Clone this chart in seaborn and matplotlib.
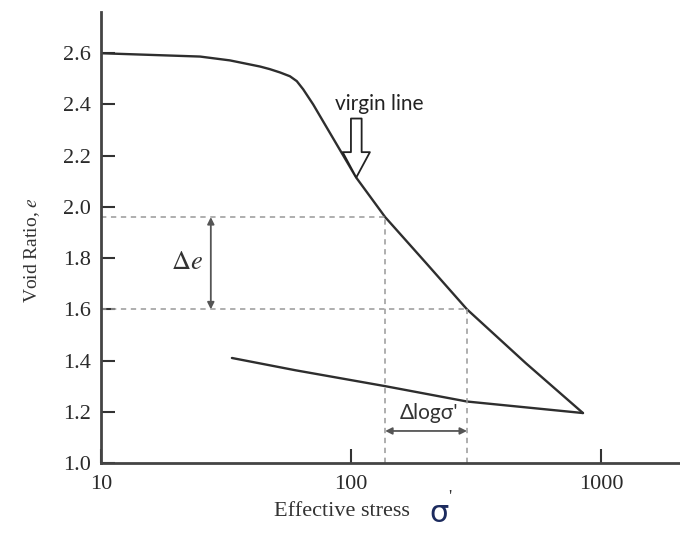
import numpy as np
import pandas as pd
import matplotlib.pyplot as plt
import seaborn as sns

# virgin compression curve
virgin_stress = [10, 24.9, 32.8, 43.3, 47.3, 52.0, 57.0, 60.7, 64.4, 70.6, 76.5,
                 105, 137, 200, 291, 500, 847]
virgin_e = [2.600, 2.587, 2.572, 2.548, 2.538, 2.525, 2.510, 2.491, 2.459, 2.400, 2.342,
            2.114, 1.96, 1.78, 1.60, 1.39, 1.195]

# unloading / rebound curve
rebound_stress = [33.4, 60, 137, 291, 847]
rebound_e = [1.41, 1.362, 1.30, 1.24, 1.195]

# construction lines
e_upper, e_lower = 1.96, 1.60
s_left, s_right = 137, 291
y_ticks = [1.0, 1.2, 1.4, 1.6, 1.8, 2.0, 2.2, 2.4, 2.6]
x_ticks = [10, 100, 1000]

virgin = pd.DataFrame({"stress": virgin_stress, "e": virgin_e})
rebound = pd.DataFrame({"stress": rebound_stress, "e": rebound_e})

sns.set_style("ticks")
plt.rcParams["font.family"] = ["Liberation Serif", "DejaVu Serif"]
plt.rcParams["mathtext.fontset"] = "stix"

fig = plt.figure(figsize=(6.8, 5.47), dpi=100)
ax = fig.add_axes([0.1485, 0.1536, 0.8515, 0.824])

line_col = "#2e2e2e"
sns.lineplot(data=virgin, x="stress", y="e", ax=ax, color=line_col, lw=1.7, sort=False)
sns.lineplot(data=rebound, x="stress", y="e", ax=ax, color=line_col, lw=1.7, sort=False)

ax.set_xscale("log")
ax.set_xlim(10, 2070)
ax.set_ylim(1.0, 2.76)

# dashed construction lines
dash = dict(color="#999999", ls=(0, (3.5, 3)), lw=1.1)
ax.plot([10, s_left], [e_upper, e_upper], **dash)
ax.plot([10, s_right], [e_lower, e_lower], **dash)
ax.plot([s_left, s_left], [1.0, e_upper], **dash)
ax.plot([s_right, s_right], [1.0, e_lower], **dash)

# delta e arrow
ax.annotate("", xy=(27.5, e_upper), xytext=(27.5, e_lower),
            arrowprops=dict(arrowstyle="<|-|>", color="#555555", lw=1.3,
                            mutation_scale=10, shrinkA=0, shrinkB=0))
ax.text(25.5, 1.78, r"$\Delta e$", fontsize=19, ha="right", va="center", color="#333333")

# delta log sigma arrow
ax.annotate("", xy=(s_left, 1.125), xytext=(s_right, 1.125),
            arrowprops=dict(arrowstyle="<|-|>", color="#555555", lw=1.3,
                            mutation_scale=10, shrinkA=0, shrinkB=0))
ax.text(205, 1.195, "Δlogσ'", fontsize=15, ha="center", va="center",
        color="#333333", family=["Lato", "DejaVu Sans"])

# virgin line label with hollow arrow
ax.text(130, 2.40, "virgin line", fontsize=15, ha="center", va="center",
        color="#222222", family=["Lato", "DejaVu Sans"])
ax.annotate("", xy=(105, 2.115), xytext=(105, 2.345),
            arrowprops=dict(arrowstyle="simple,head_width=1.4,head_length=1.3,tail_width=0.55",
                            fc="white", ec="#222222", lw=1.3, mutation_scale=14,
                            shrinkA=0, shrinkB=0))

# axes styling
ax.set_xticks(x_ticks)
ax.set_xticklabels(["10", "100", "1000"])
ax.set_yticks(y_ticks)
ax.set_yticklabels([f"{v:.1f}" for v in y_ticks])
ax.minorticks_off()
ax.tick_params(axis="both", direction="in", length=10, width=1.5, color="#333333",
               labelsize=16, labelcolor="#2a2a2a")
ax.tick_params(axis="x", pad=9)
ax.tick_params(axis="y", pad=7)
for side in ["top", "right"]:
    ax.spines[side].set_visible(False)
for side in ["left", "bottom"]:
    ax.spines[side].set_linewidth(2)
    ax.spines[side].set_color("#444444")
ax.set_xlabel("")
ax.set_ylabel("Void Ratio, $e$", fontsize=14, color="#333333")
ax.yaxis.set_label_coords(-0.102, 0.472)

fig.text(0.503, 0.064, "Effective stress", fontsize=16, ha="center", va="center", color="#333333")
fig.text(0.645, 0.062, "σ", fontsize=22, ha="center", va="center", color="#1c2b5e",
         family=["DejaVu Sans"])
fig.text(0.662, 0.088, "'", fontsize=13, ha="center", va="center", color="#333333")

fig.savefig("out.png", dpi=100)
